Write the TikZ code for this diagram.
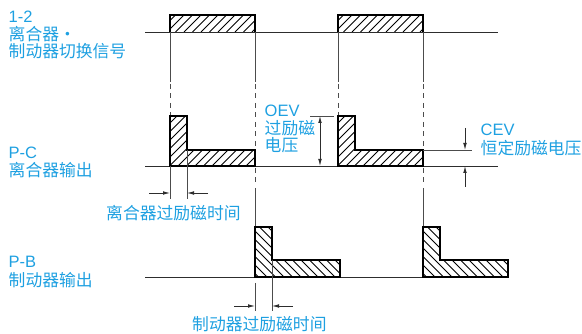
\documentclass[tikz,border=0pt]{standalone}
\usepackage{fontspec}
\setmainfont{Liberation Sans}
\newfontfamily\cjk{Noto Sans CJK SC}
\usetikzlibrary{arrows.meta}
\definecolor{lbl}{RGB}{30,160,225}
\definecolor{ln}{RGB}{45,45,45}
\tikzset{
  baseln/.style={draw=ln, line width=0.9pt},
  guide/.style={draw=ln!85, line width=0.9pt},
  dashguide/.style={guide, dash pattern=on 5pt off 4.5pt},
  pulse/.style={draw=black, line width=1.4pt, line join=miter},
  hatchln/.style={draw=black, line width=0.8pt},
  dimarrow/.style={draw=ln, line width=0.8pt, -{Latex[length=7pt,width=3.6pt]}},
  dimboth/.style={draw=ln, line width=0.8pt, {Latex[length=7pt,width=3.6pt]}-{Latex[length=7pt,width=3.6pt]}},
  latin/.style={text=lbl, inner sep=0pt, anchor=west, font=\fontsize{16.5}{18}\selectfont},
  cjklbl/.style={text=lbl, inner sep=0pt, anchor=west, font=\cjk\fontsize{16.8}{18}\selectfont},
}
\begin{document}
\begin{tikzpicture}[x=1pt,y=-1pt]
\useasboundingbox (0,0) rectangle (582,334);

% ---------- top row : switching signal ----------
\draw[baseln] (145,32) -- (498,32);
\foreach \xa/\xb in {170/255, 338/423}{
  \begin{scope}
    \clip (\xa,15) rectangle (\xb,32);
    \foreach \i in {-20,-11.5,...,100}{
      \draw[hatchln] (\xa+\i,32) -- ++(30,-30);
    }
  \end{scope}
  \draw[pulse] (\xa,32) -- (\xa,15) -- (\xb,15) -- (\xb,32);
}

% ---------- guide lines ----------
\foreach \xa/\xb in {170/255, 338/423}{
  \draw[guide] (\xa,32) -- (\xa,82);
  \draw[dashguide] (\xa,84) -- (\xa,116);
  \draw[guide] (\xb,32) -- (\xb,82);
  \draw[dashguide] (\xb,84) -- (\xb,150);
  \draw[dashguide] (\xb,168) -- (\xb,186);
  \draw[guide] (\xb,188) -- (\xb,227);
}

% ---------- P-C row : clutch output ----------
\draw[baseln] (145,166) -- (498,166);
\foreach \xa in {170, 338}{
  \begin{scope}
    \clip (\xa,166) -- (\xa,116) -- (\xa+17,116) -- (\xa+17,150) -- (\xa+85,150) -- (\xa+85,166) -- cycle;
    \foreach \i in {-60,-51.5,...,100}{
      \draw[hatchln] (\xa+\i,166) -- ++(60,-60);
    }
  \end{scope}
  \draw[pulse] (\xa,166) -- (\xa,116) -- (\xa+17,116) -- (\xa+17,150) -- (\xa+85,150) -- (\xa+85,166) -- cycle;
}

% ---------- P-B row : brake output ----------
\draw[baseln] (145,277) -- (508,277);
\foreach \xa in {255, 423}{
  \begin{scope}
    \clip (\xa,277) -- (\xa,227) -- (\xa+17,227) -- (\xa+17,260) -- (\xa+85,260) -- (\xa+85,277) -- cycle;
    \foreach \i in {-5,3.5,...,160}{
      \draw[hatchln] (\xa+\i,277) -- ++(-60,-60);
    }
  \end{scope}
  \draw[pulse] (\xa,277) -- (\xa,227) -- (\xa+17,227) -- (\xa+17,260) -- (\xa+85,260) -- (\xa+85,277) -- cycle;
}

% ---------- clutch over-excitation time ----------
\coordinate (ca) at (170,193);
\coordinate (cb) at (187,193);
\coordinate (cal) at (149,193);
\coordinate (cbr) at (208,193);
\draw[guide] (170,166) -- (170,199);
\draw[guide] (187,150) -- (187,199);
\draw[dimarrow] (cal) -- (ca);
\draw[dimarrow] (cbr) -- (cb);
\node[cjklbl] (ctime) at (106,213.5) {离合器过励磁时间};

% ---------- brake over-excitation time ----------
\coordinate (ba) at (255,306);
\coordinate (bb) at (272,306);
\coordinate (bal) at (234,306);
\coordinate (bbr) at (293,306);
\draw[guide] (255,283) -- (255,311);
\draw[guide] (272,260) -- (272,311);
\draw[dimarrow] (bal) -- (ba);
\draw[dimarrow] (bbr) -- (bb);
\node[cjklbl] (btime) at (192,324.5) {制动器过励磁时间};

% ---------- OEV ----------
\coordinate (oevtop) at (320,116);
\coordinate (oevbot) at (320,166);
\draw[guide] (310,116) -- (334,116);
\draw[dimboth] (oevtop) -- (oevbot);
\node[latin] (oev) at (264.5,110.5) {OEV};
\node[cjklbl] (oev2) at (264.5,128) {过励磁};
\node[cjklbl] (oev3) at (264.5,145.5) {电压};

% ---------- CEV ----------
\coordinate (cevtop) at (465,128);
\coordinate (cevhi) at (465,150);
\coordinate (cevlo) at (465,166);
\coordinate (cevbot) at (465,187);
\draw[guide] (423,150) -- (472,150);
\draw[dimarrow] (cevtop) -- (cevhi);
\draw[dimarrow] (cevbot) -- (cevlo);
\node[latin] (cev) at (480.5,129.5) {CEV};
\node[cjklbl] (cev2) at (480.5,148) {恒定励磁电压};

% ---------- left labels ----------
\node[latin] (l12) at (8.5,16.5) {1-2};
\node[cjklbl] (l12a) at (8.5,34) {离合器・};
\node[cjklbl] (l12b) at (8.5,51) {制动器切换信号};
\node[latin] (lpc) at (8.5,153) {P-C};
\node[cjklbl] (lpc2) at (8.5,170.5) {离合器输出};
\node[latin] (lpb) at (8.5,262) {P-B};
\node[cjklbl] (lpb2) at (8.5,280) {制动器输出};
\end{tikzpicture}
\end{document}
